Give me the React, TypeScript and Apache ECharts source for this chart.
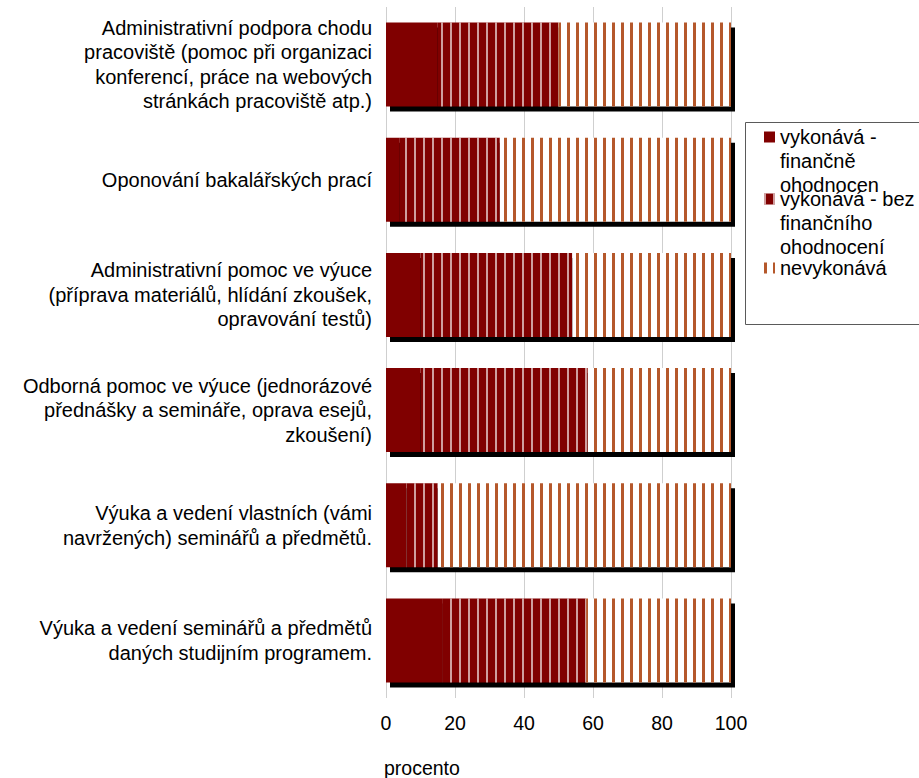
import React, { useEffect, useRef } from 'react';
import * as echarts from 'echarts';

const categories = [
  'Administrativní podpora chodu\npracoviště (pomoc při organizaci\nkonferencí, práce na webových\nstránkách pracoviště atp.)',
  'Oponování bakalářských prací',
  'Administrativní pomoc ve výuce\n(příprava materiálů, hlídání zkoušek,\nopravování testů)',
  'Odborná pomoc ve výuce (jednorázové\npřednášky a semináře, oprava esejů,\nzkoušení)',
  'Výuka a vedení vlastních (vámi\nnavržených) seminářů a předmětů.',
  'Výuka a vedení seminářů a předmětů\ndaných studijním programem.',
];

const financne = [15, 4, 10, 10, 6, 16.5];
const bezOhodnoceni = [35, 29, 44, 48.5, 9, 41.5];
const nevykonava = [50, 67, 46, 41.5, 85, 42];

const seriesNames = [
  'vykonává - finančně ohodnocen',
  'vykonává - bez finančního ohodnocení',
  'nevykonává',
];
const legendLabels = [
  'vykonává -\nfinančně\nohodnocen',
  'vykonává - bez\nfinančního\nohodnocení',
  'nevykonává',
];
const xTicks = [0, 20, 40, 60, 80, 100];
const axisTitle = 'procento';

const FONT = '"Liberation Sans", Arial, sans-serif';
const FS = 19.5;

export default function App() {
  const ref = useRef<HTMLDivElement>(null);
  useEffect(() => {
    if (!ref.current) return;
    const chart = echarts.init(ref.current, undefined, { renderer: 'svg' });
    const totals = categories.map((_, i) => financne[i] + bezOhodnoceni[i] + nevykonava[i]);
    const xMin = xTicks[0];
    const xMax = xTicks[xTicks.length - 1];
    // pad label lines so that the first line sits level with the legend icon
    const legendText = (s: string) => {
      const lines = s.split('\n');
      const pad = lines.length === 1 ? 2 : lines.length - 1;
      const before = new Array(pad).fill('');
      const after = lines.length === 1 ? new Array(pad).fill('') : [];
      return [...before, ...lines, ...after].join('\n');
    };
    const option: any = {
      animation: false,
      backgroundColor: '#fff',
      textStyle: { fontFamily: FONT },
      grid: [
        { left: 386, right: 188, top: 7, bottom: 80, containLabel: false },
        { left: 390, right: 184, top: 12, bottom: 75, containLabel: false },
      ],
      title: {
        text: axisTitle,
        left: 384,
        top: 758,
        padding: 0,
        textStyle: { fontFamily: FONT, fontSize: FS, fontWeight: 'normal', color: '#000' },
      },
      xAxis: [
        {
          type: 'value',
          gridIndex: 0,
          min: xMin,
          max: xMax,
          interval: xTicks[1] - xTicks[0],
          axisLine: { show: false },
          axisTick: { show: false },
          splitLine: { show: true, lineStyle: { color: '#cfcfcf', width: 1 } },
          axisLabel: { fontFamily: FONT, fontSize: FS, color: '#000', margin: 15 },
        },
        { type: 'value', gridIndex: 1, min: xMin, max: xMax, show: false },
      ],
      yAxis: [
        {
          type: 'category',
          gridIndex: 0,
          data: categories,
          inverse: true,
          axisLine: { show: false },
          axisTick: { show: false },
          splitLine: { show: false },
          axisLabel: {
            interval: 0,
            margin: 14,
            formatter: (v: string) => v.split('\n').map((l) => `{c|${l}}`).join('\n'),
            rich: {
              c: {
                width: '100%',
                align: 'center',
                fontFamily: FONT,
                fontSize: 20,
                lineHeight: 24.5,
                color: '#000',
              },
            },
          },
        },
        { type: 'category', gridIndex: 1, data: categories, inverse: true, show: false },
      ],
      legend: {
        orient: 'vertical',
        left: 764,
        top: 77,
        padding: 0,
        itemGap: -58,
        itemWidth: 11,
        itemHeight: 11,
        icon: 'rect',
        selectedMode: false,
        formatter: (name: string) => legendText(legendLabels[seriesNames.indexOf(name)]),
        textStyle: { fontFamily: FONT, fontSize: 20, lineHeight: 24, color: '#000' },
        data: [
          { name: seriesNames[0] },
          { name: seriesNames[1] },
          { name: seriesNames[2], textStyle: { lineHeight: 26.8 } },
        ],
      },
      graphic: [
        {
          type: 'rect',
          silent: true,
          z: -10,
          shape: { x: 745.5, y: 122.5, width: 220, height: 202 },
          style: { fill: '#fff', stroke: '#5a5a5a', lineWidth: 1 },
        },
      ],
      series: [
        {
          name: 'shadow',
          type: 'bar',
          xAxisIndex: 1,
          yAxisIndex: 1,
          data: totals,
          barCategoryGap: '27%',
          silent: true,
          z: 1,
          itemStyle: { color: '#000' },
        },
        {
          name: seriesNames[0],
          type: 'bar',
          stack: 'total',
          data: financne,
          barCategoryGap: '27%',
          z: 3,
          itemStyle: { color: '#800000' },
        },
        {
          name: seriesNames[1],
          type: 'bar',
          stack: 'total',
          data: bezOhodnoceni,
          barCategoryGap: '27%',
          z: 3,
          itemStyle: {
            color: '#800000',
            decal: {
              symbol: 'rect',
              symbolSize: 1,
              color: 'rgba(255,255,255,0.62)',
              dashArrayX: [1.5, 6.2],
              dashArrayY: [10, 0],
              rotation: 0,
            },
          },
        },
        {
          name: seriesNames[2],
          type: 'bar',
          stack: 'total',
          data: nevykonava,
          barCategoryGap: '27%',
          z: 3,
          itemStyle: {
            color: '#ffffff',
            decal: {
              symbol: 'rect',
              symbolSize: 1,
              color: '#b5582b',
              dashArrayX: [2.5, 5.27],
              dashArrayY: [10, 0],
              rotation: 0,
            },
          },
        },
      ],
    };
    chart.setOption(option);
    return () => chart.dispose();
  }, []);
  return (
    <div
      ref={ref}
      style={{ position: 'absolute', left: 0, top: 0, width: 919, height: 778, background: '#fff' }}
    />
  );
}
